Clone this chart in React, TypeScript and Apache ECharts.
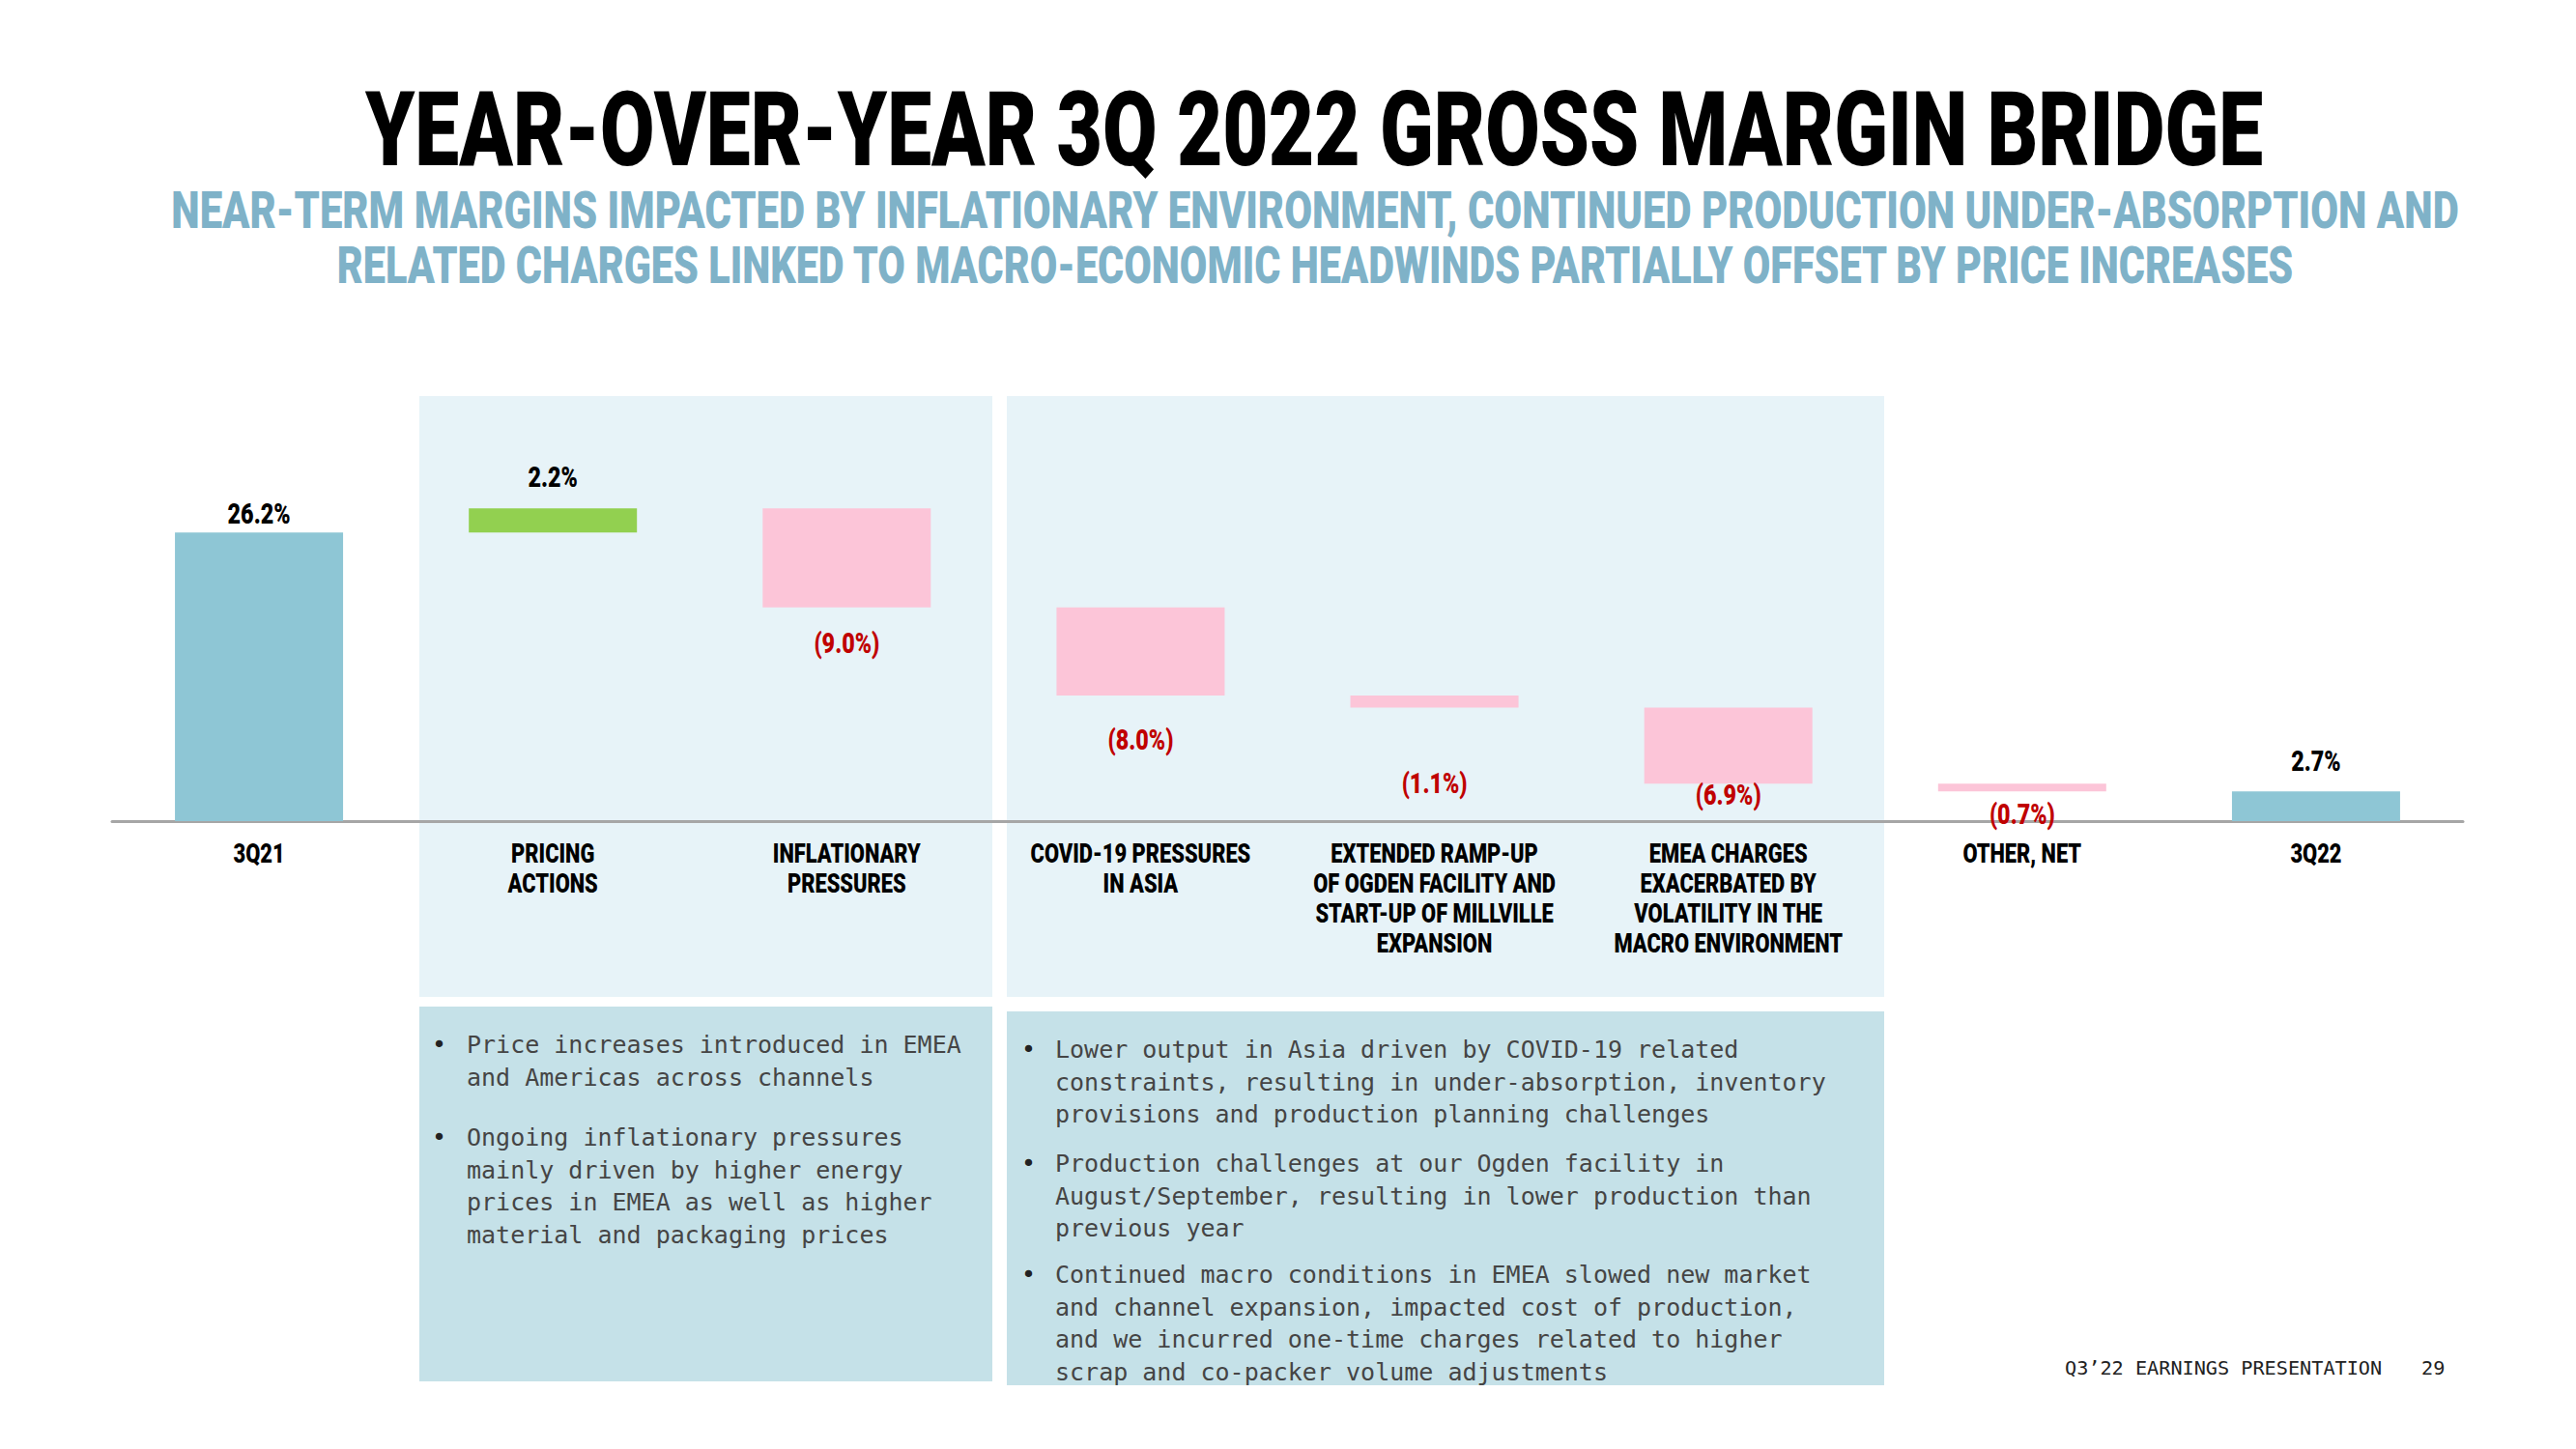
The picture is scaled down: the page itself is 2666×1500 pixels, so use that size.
import React, { useEffect, useRef } from 'react';
import * as echarts from 'echarts';

// ---------- data ----------
const categories = [
  '3Q21',
  'PRICING\nACTIONS',
  'INFLATIONARY\nPRESSURES',
  'COVID-19 PRESSURES\nIN ASIA',
  'EXTENDED RAMP-UP\nOF OGDEN FACILITY AND\nSTART-UP OF MILLVILLE\nEXPANSION',
  'EMEA CHARGES\nEXACERBATED BY\nVOLATILITY IN THE\nMACRO ENVIRONMENT',
  'OTHER, NET',
  '3Q22',
];
const startValue = 26.2;
const deltas = [2.2, -9.0, -8.0, -1.1, -6.9, -0.7];
const endValue = 2.7;

const titleText = 'YEAR-OVER-YEAR 3Q 2022 GROSS MARGIN BRIDGE';
const subtitleLines = [
  'NEAR-TERM MARGINS IMPACTED BY INFLATIONARY ENVIRONMENT, CONTINUED PRODUCTION UNDER-ABSORPTION AND',
  'RELATED CHARGES LINKED TO MACRO-ECONOMIC HEADWINDS PARTIALLY OFFSET BY PRICE INCREASES',
];
const box1Bullets = [
  'Price increases introduced in EMEA\nand Americas across channels',
  'Ongoing inflationary pressures\nmainly driven by higher energy\nprices in EMEA as well as higher\nmaterial and packaging prices',
];
const box2Bullets = [
  'Lower output in Asia driven by COVID-19 related\nconstraints, resulting in under-absorption, inventory\nprovisions and production planning challenges',
  'Production challenges at our Ogden facility in\nAugust/September, resulting in lower production than\nprevious year',
  'Continued macro conditions in EMEA slowed new market\nand channel expansion, impacted cost of production,\nand we incurred one-time charges related to higher\nscrap and co-packer volume adjustments',
];
const footerText = 'Q3\u201922 EARNINGS PRESENTATION';
const pageNumber = '29';

// ---------- styles (kept apart from data) ----------
const labelOffset = [19, 32, 37, 46, 78, 12, 24, 31]; // label centre distance from bar edge
const COLOR_TOTAL = '#8EC6D5';
const COLOR_UP = '#92D050';
const COLOR_DOWN = '#FCC5D8';
const COLOR_NEG_LABEL = '#C00000';
const MONO = "'DejaVu Sans Mono', 'Liberation Mono', monospace";
const HEAVY = 'Roboto, Inter, sans-serif';

function measure(text: string, font: string) {
  const ctx = document.createElement('canvas').getContext('2d');
  if (!ctx) return 0;
  ctx.font = font;
  return ctx.measureText(text).width;
}
function fitScale(text: string, font: string, target: number) {
  const w = measure(text, font);
  return w > 0 ? target / w : 1;
}

function fmt(v: number) {
  return v < 0 ? `(${Math.abs(v).toFixed(1)}%)` : `${v.toFixed(1)}%`;
}

export default function App() {
  const ref = useRef<HTMLDivElement>(null);

  useEffect(() => {
    document.body.style.margin = '0';
    if (!ref.current) return;
    const chart = echarts.init(ref.current, undefined, { renderer: 'svg' });

    const steps = [startValue, ...deltas, endValue];
    const base: number[] = [];
    const vis: number[] = [];
    let running = 0;
    steps.forEach((v, i) => {
      if (i === 0 || i === steps.length - 1) {
        base.push(0);
        vis.push(v);
        running = v;
      } else if (v >= 0) {
        base.push(+running.toFixed(2));
        vis.push(v);
        running += v;
      } else {
        running += v;
        base.push(+running.toFixed(2));
        vis.push(-v);
      }
    });
    // edge of each bar next to which its label sits
    const edge = steps.map((s, i) => (s < 0 ? base[i] : +(base[i] + vis[i]).toFixed(2)));

    const titleScale = fitScale(titleText, '900 107px Roboto', 1965);
    const subScale1 = fitScale(subtitleLines[0], '900 53px Roboto', 2368);
    const subScale2 = fitScale(subtitleLines[1], '900 53px Roboto', 2028);
    const catScale = fitScale('COVID-19 PRESSURES', '900 27px Roboto', 228);
    const valScale = fitScale('26.2%', '900 30px Roboto', 65);

    const bodyStyle = (text: string) => ({
      text,
      fontFamily: MONO,
      fontSize: 25,
      lineHeight: 33.5,
      fill: '#454545',
      textVerticalAlign: 'top',
      verticalAlign: 'top',
    });

    const bulletEls = (paras: string[], tops: number[], bulletX: number, textX: number) => {
      const out: any[] = [];
      paras.forEach((p, i) => {
        out.push({ type: 'text', x: bulletX, y: tops[i], z: 5, style: { ...bodyStyle('\u2022'), fill: '#222222' } });
        out.push({ type: 'text', x: textX, y: tops[i], z: 5, style: bodyStyle(p) });
      });
      return out;
    };

    const centerText = (text: string, x: number, y: number, scaleX: number, size: number, color: string) => ({
      type: 'text',
      x,
      y,
      scaleX,
      z: 5,
      style: {
        text,
        fontFamily: HEAVY,
        fontWeight: 900,
        fontSize: size,
        fill: color,
        textAlign: 'center',
        align: 'center',
        textVerticalAlign: 'middle',
        verticalAlign: 'middle',
      },
    });

    chart.setOption({
      animation: false,
      backgroundColor: '#ffffff',
      grid: { left: 116, right: 117, top: 451, bottom: 650, containLabel: false },
      xAxis: {
        type: 'category',
        data: categories,
        axisLine: { show: true, lineStyle: { color: '#A6A6A6', width: 3 } },
        axisTick: { show: false },
        splitLine: { show: false },
        axisLabel: { show: false },
      },
      yAxis: { type: 'value', min: 0, max: 35, show: false, splitLine: { show: false } },
      series: [
        {
          type: 'bar',
          stack: 'w',
          barWidth: 174,
          silent: true,
          itemStyle: { color: 'transparent' },
          data: base,
        },
        {
          type: 'bar',
          stack: 'w',
          barWidth: 174,
          data: vis.map((v, i) => {
            const s = steps[i];
            const isTotal = i === 0 || i === steps.length - 1;
            return {
              value: v,
              itemStyle: { color: isTotal ? COLOR_TOTAL : s >= 0 ? COLOR_UP : COLOR_DOWN },
            };
          }),
        },
        // value labels, placed through the axes' scales
        {
          type: 'custom',
          silent: true,
          clip: false,
          z: 4,
          data: edge.map((e, i) => [i, e]),
          renderItem: (params: any, api: any) => {
            const i = params.dataIndex;
            const s = steps[i];
            const p = api.coord([api.value(0), api.value(1)]);
            const y = s < 0 ? p[1] + labelOffset[i] : p[1] - labelOffset[i];
            return {
              type: 'text',
              x: p[0],
              y,
              scaleX: valScale,
              style: {
                text: fmt(s),
                fill: s < 0 ? COLOR_NEG_LABEL : '#000000',
                fontFamily: HEAVY,
                fontWeight: 900,
                fontSize: 30,
                textAlign: 'center',
                align: 'center',
                textVerticalAlign: 'middle',
                verticalAlign: 'middle',
              },
            };
          },
        },
        // category labels under the axis, placed through the category scale
        {
          type: 'custom',
          silent: true,
          clip: false,
          z: 4,
          data: categories.map((_, i) => [i, 0]),
          renderItem: (params: any, api: any) => {
            const i = params.dataIndex;
            const p = api.coord([api.value(0), api.value(1)]);
            return {
              type: 'text',
              x: p[0],
              y: p[1] + 18,
              scaleX: catScale,
              style: {
                text: categories[i],
                fill: '#000000',
                fontFamily: HEAVY,
                fontWeight: 900,
                fontSize: 27,
                lineHeight: 31,
                textAlign: 'center',
                align: 'center',
                textVerticalAlign: 'top',
                verticalAlign: 'top',
              },
            };
          },
        },
      ],
      graphic: [
        // background panels
        { type: 'rect', z: -10, shape: { x: 434, y: 410, width: 593, height: 622 }, style: { fill: '#E7F3F8' } },
        { type: 'rect', z: -10, shape: { x: 1042, y: 410, width: 908, height: 622 }, style: { fill: '#E7F3F8' } },
        // commentary boxes
        { type: 'rect', z: -10, shape: { x: 434, y: 1042, width: 593, height: 388 }, style: { fill: '#C5E1E8' } },
        { type: 'rect', z: -10, shape: { x: 1042, y: 1047, width: 908, height: 387 }, style: { fill: '#C5E1E8' } },
        // titles
        centerText(titleText, 1360, 134, titleScale, 107, '#000000'),
        centerText(subtitleLines[0], 1361, 218, subScale1, 53, '#7FB2C8'),
        centerText(subtitleLines[1], 1361, 275, subScale2, 53, '#7FB2C8'),
        // commentary texts
        ...bulletEls(box1Bullets, [1065, 1161], 447, 483),
        ...bulletEls(box2Bullets, [1070, 1188, 1303], 1057, 1092),
        // footer
        {
          type: 'text',
          x: 2137,
          y: 1416,
          z: 5,
          style: { text: footerText, fontFamily: MONO, fontSize: 20.2, fill: '#222', textVerticalAlign: 'middle', verticalAlign: 'middle' },
        },
        {
          type: 'text',
          x: 2506,
          y: 1416,
          z: 5,
          style: { text: pageNumber, fontFamily: MONO, fontSize: 20.2, fill: '#222', textVerticalAlign: 'middle', verticalAlign: 'middle' },
        },
      ],
    });

    return () => chart.dispose();
  }, []);

  return (
    <div
      ref={ref}
      style={{ position: 'absolute', left: 0, top: 0, width: 2666, height: 1500, background: '#fff' }}
    />
  );
}
